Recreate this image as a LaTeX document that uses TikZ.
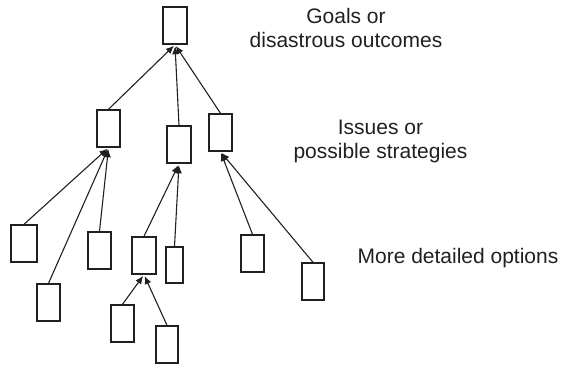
\documentclass[tikz,border=0pt]{standalone}
\usepackage{fontspec}
\setmainfont{Liberation Sans}
\usetikzlibrary{arrows.meta}
\definecolor{ink}{HTML}{231F20}
\tikzset{
  box/.style={draw=ink, line width=1.4pt, minimum width=23pt, minimum height=37pt, inner sep=0pt},
  link/.style={draw=ink, line width=1.1pt, -{Latex[length=8pt,width=7pt]}, shorten >=1.5pt},
  lbl/.style={text=ink, font=\fontsize{21}{23.5}\selectfont, align=center, inner sep=0pt}
}
\begin{document}
\begin{tikzpicture}[x=1pt,y=-1pt]
\useasboundingbox (0,0) rectangle (562,365);
\node[box, minimum width=24pt] (top) at (175,25.5) {};
\node[box] (L) at (108.5,128.5) {};
\node[box, minimum width=24pt] (M) at (179,144.5) {};
\node[box] (R) at (220.5,132.5) {};
\node[box, minimum width=26pt] (A) at (24,243.5) {};
\node[box] (B) at (48.5,302.5) {};
\node[box] (C) at (99.5,250.5) {};
\node[box, minimum width=24pt] (D) at (144,255.5) {};
\node[box, minimum width=17pt, minimum height=36pt] (E) at (174.5,265) {};
\node[box] (F) at (122.5,323.5) {};
\node[box, minimum width=22pt] (G) at (167,344.5) {};
\node[box] (H) at (252.5,253.5) {};
\node[box, minimum width=22pt] (I) at (313,281.5) {};
\draw[link] (L.north) -- (top.south);
\draw[link] (M.north) -- (top.south);
\draw[link] (R.north) -- (top.south);
\draw[link] (A.north) -- (L.south);
\draw[link] (B.north) -- (L.south);
\draw[link] (C.north) -- (L.south);
\draw[link] (D.north) -- (M.south);
\draw[link] (E.north) -- (M.south);
\draw[link] (F.north) -- (D.south);
\draw[link] (G.north) -- (D.south);
\draw[link] (H.north) -- (R.south);
\draw[link] (I.north) -- (R.south);
\node[lbl, anchor=base] (t1) at (346,47) {Goals or\\disastrous outcomes};
\node[lbl, anchor=base] (t2) at (380.5,158) {Issues or\\possible strategies};
\node[lbl, anchor=base] (t3) at (458,263) {More detailed options};
\end{tikzpicture}
\end{document}
